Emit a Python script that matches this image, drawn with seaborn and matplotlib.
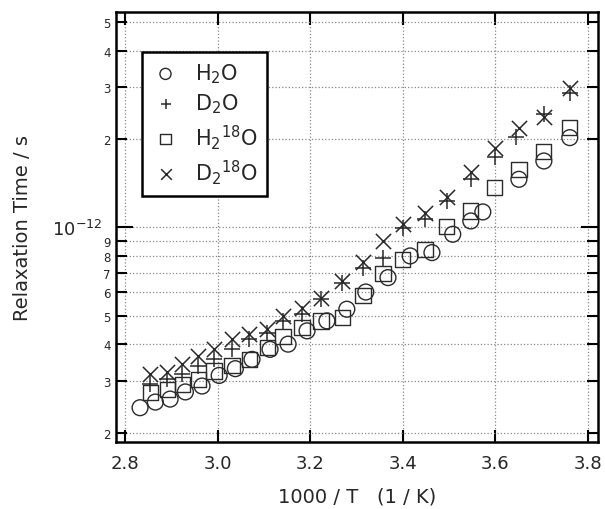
import numpy as np
import pandas as pd
import matplotlib
matplotlib.use("Agg")
import matplotlib.pyplot as plt
import matplotlib.ticker as mticker
import seaborn as sns

# ---- data (1000/T in 1/K, relaxation time in units of 1e-12 s) ----
h2o_x = [2.832, 2.865, 2.897, 2.930, 2.966, 3.003, 3.038, 3.074, 3.113, 3.152,
         3.193, 3.236, 3.279, 3.320, 3.368, 3.416, 3.463, 3.508, 3.547, 3.573,
         3.651, 3.705, 3.761]
h2o_y = [0.243, 0.254, 0.260, 0.275, 0.288, 0.313, 0.330, 0.355, 0.384, 0.400,
         0.444, 0.480, 0.526, 0.602, 0.674, 0.799, 0.820, 0.947, 1.051, 1.128,
         1.457, 1.682, 2.02]

iso_x = [2.854, 2.891, 2.923, 2.958, 2.992, 3.031, 3.068, 3.107, 3.141, 3.182,
         3.223, 3.269, 3.314, 3.357, 3.400, 3.448, 3.495, 3.547, 3.599, 3.651,
         3.705, 3.761]
d2o_x = [2.854, 2.891, 2.923, 2.958, 2.992, 3.031, 3.068, 3.107, 3.141, 3.182,
         3.223, 3.269, 3.314, 3.357, 3.400, 3.448, 3.495, 3.547, 3.599, 3.645,
         3.705, 3.761]
d2o_y = [0.292, 0.305, 0.316, 0.337, 0.355, 0.386, 0.417, 0.438, 0.480, 0.506,
         0.569, 0.648, 0.729, 0.789, 0.998, 1.065, 1.229, 1.457, 1.738, 2.03,
         2.426, 2.86]
h218o_y = [0.274, 0.281, 0.292, 0.304, 0.324, 0.339, 0.355, 0.389, 0.425, 0.456,
           0.480, 0.493, 0.584, 0.697, 0.778, 0.842, 1.004, 1.136, 1.365, 1.576,
           1.808, 2.19]
d218o_y = [0.316, 0.322, 0.342, 0.365, 0.384, 0.416, 0.432, 0.449, 0.499, 0.533,
           0.576, 0.657, 0.763, 0.898, 1.024, 1.122, 1.272, 1.545, 1.868, 2.186,
           2.378, 2.99]

labels = [r"$\mathregular{H_2O}$", r"$\mathregular{D_2O}$",
          r"$\mathregular{H_2{}^{18}O}$", r"$\mathregular{D_2{}^{18}O}$"]

x_ticks = [2.8, 3.0, 3.2, 3.4, 3.6, 3.8]
y_major = [1e-12]
y_minor = [2e-13, 3e-13, 4e-13, 5e-13, 6e-13, 7e-13, 8e-13, 9e-13,
           2e-12, 3e-12, 4e-12, 5e-12]

sns.set_style("ticks")
plt.rcParams["font.family"] = ["DejaVu Sans"]
plt.rcParams["mathtext.fontset"] = "dejavusans"

fig = plt.figure(figsize=(6.05, 5.1), dpi=100)
ax = fig.add_axes([116 / 605, 1 - 443 / 510, (598 - 116) / 605, (443 - 13) / 510])

ink = "#2a2a2a"
series = [
    (h2o_x, h2o_y, "o", labels[0], True),
    (d2o_x, d2o_y, "+", labels[1], False),
    (iso_x, h218o_y, "s", labels[2], True),
    (iso_x, d218o_y, "x", labels[3], False),
]
for xs, ys, mk, lab, filled in series:
    df = pd.DataFrame({"x": xs, "y": np.array(ys) * 1e-12})
    if filled:
        sns.scatterplot(data=df, x="x", y="y", marker=mk, s=130 if mk == "o" else 120,
                        facecolor="none", edgecolor=ink, linewidth=1.0,
                        label=lab, ax=ax, zorder=3)
    else:
        sns.scatterplot(data=df, x="x", y="y", marker=mk, s=120,
                        color=ink, linewidth=1.1, label=lab, ax=ax, zorder=3)

ax.set_yscale("log")
ax.set_xlim(2.78, 3.822)
ax.set_ylim(1.857e-13, 5.41e-12)

ax.xaxis.set_major_locator(mticker.FixedLocator(x_ticks))
ax.xaxis.set_major_formatter(mticker.FormatStrFormatter("%.1f"))
ax.yaxis.set_major_locator(mticker.FixedLocator(y_major))
ax.yaxis.set_major_formatter(mticker.FuncFormatter(
    lambda v, p: r"$10^{%d}$" % int(round(np.log10(v)))))
ax.yaxis.set_minor_locator(mticker.FixedLocator(y_minor))

def minor_fmt(v, p):
    e = np.floor(np.log10(v) + 1e-9)
    return "%d" % int(round(v / 10 ** e))

ax.yaxis.set_minor_formatter(mticker.FuncFormatter(minor_fmt))
ax.xaxis.set_minor_locator(mticker.NullLocator())

ax.tick_params(which="both", direction="in", top=True, right=True, width=1.5, color="black")
ax.tick_params(axis="x", which="major", length=9, labelsize=13, pad=9)
ax.tick_params(axis="y", which="major", length=12, labelsize=13, pad=10)
ax.tick_params(axis="y", which="minor", length=8, labelsize=8.5, pad=4)

ax.grid(which="major", axis="both", linestyle=":", color="#888888", linewidth=0.9)
ax.grid(which="minor", axis="y", linestyle=":", color="#888888", linewidth=0.9)

for sp in ax.spines.values():
    sp.set_linewidth(1.8)
    sp.set_color("black")

ax.set_xlabel("1000 / T   (1 / K)", fontsize=14, labelpad=10)
ax.set_ylabel("Relaxation Time / s", fontsize=14, labelpad=14)

leg = ax.legend(loc="upper left", bbox_to_anchor=(0.053, 0.907), borderaxespad=0,
                frameon=True, fancybox=False, fontsize=15, markerscale=0.7,
                handletextpad=0.7, labelspacing=0.32, borderpad=0.45, handlelength=1.4)
leg.get_frame().set_edgecolor("black")
leg.get_frame().set_linewidth(1.8)
leg.get_frame().set_alpha(1)

fig.savefig("out.png", dpi=100)
